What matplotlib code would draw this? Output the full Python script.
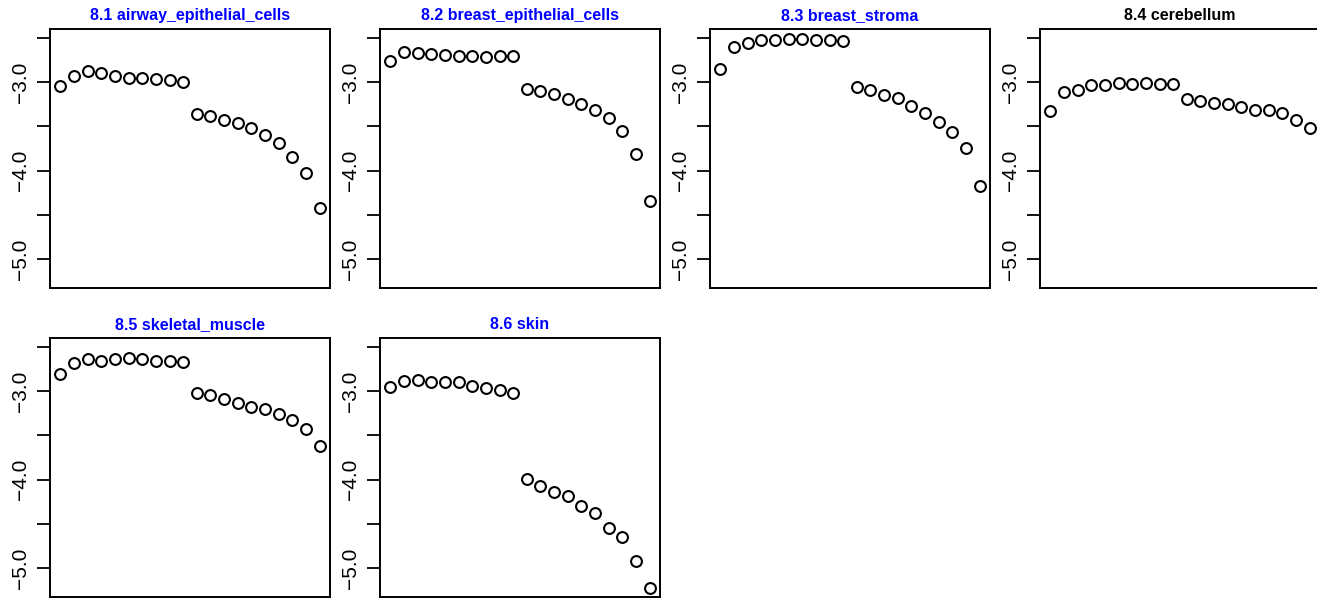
import matplotlib
matplotlib.use("Agg")
import matplotlib.pyplot as plt
import numpy as np

plt.rcParams['font.family'] = ['Liberation Sans', 'DejaVu Sans']

titles = ["8.1 airway_epithelial_cells", "8.2 breast_epithelial_cells",
          "8.3 breast_stroma", "8.4 cerebellum",
          "8.5 skeletal_muscle", "8.6 skin"]
title_colors = ["#0000FF", "#0000FF", "#0000FF", "#000000", "#0000FF", "#0000FF"]

airway = [-3.038, -2.935, -2.878, -2.893, -2.935, -2.950, -2.950, -2.966, -2.981, -2.996,
          -3.357, -3.387, -3.433, -3.463, -3.520, -3.596, -3.691, -3.843, -4.032, -4.424]
breast_epi = [-2.761, -2.658, -2.670, -2.677, -2.692, -2.699, -2.699, -2.711, -2.699, -2.699,
              -3.075, -3.102, -3.132, -3.189, -3.246, -3.315, -3.406, -3.550, -3.816, -4.347]
breast_stroma = [-2.847, -2.601, -2.551, -2.525, -2.522, -2.514, -2.508, -2.517, -2.525, -2.536,
                 -3.049, -3.083, -3.144, -3.178, -3.265, -3.353, -3.451, -3.569, -3.740, -4.177]
cerebellum = [-3.330, -3.106, -3.083, -3.034, -3.034, -3.007, -3.023, -3.007, -3.018, -3.018,
              -3.186, -3.208, -3.231, -3.250, -3.280, -3.315, -3.315, -3.345, -3.428, -3.520]
skeletal = [-2.810, -2.685, -2.636, -2.654, -2.639, -2.628, -2.639, -2.658, -2.658, -2.665,
            -3.026, -3.038, -3.083, -3.132, -3.178, -3.205, -3.254, -3.330, -3.425, -3.622]
skin = [-2.950, -2.886, -2.875, -2.893, -2.893, -2.901, -2.939, -2.969, -2.989, -3.015,
        -3.994, -4.071, -4.139, -4.191, -4.298, -4.382, -4.545, -4.651, -4.925, -5.228]

series = [airway, breast_epi, breast_stroma, cerebellum, skeletal, skin]
yticks = [-2.5, -3.0, -3.5, -4.0, -4.5, -5.0]
ytick_labels = ["", "\u22123.0", "", "\u22124.0", "", "\u22125.0"]

W, H = 1317, 599
fig = plt.figure(figsize=(W / 100, H / 100), dpi=100)

lefts = [50, 380, 710, 1040]
tops = [29, 338]
aw, ah = 280, 259

for i, vals in enumerate(series):
    r, c = divmod(i, 4)
    l = lefts[c]
    t = tops[r]
    ax = fig.add_axes([l / W, 1 - (t + ah) / H, aw / W, ah / H])
    x = np.arange(1, len(vals) + 1)
    ax.plot(x, vals, linestyle='none', marker='o', markersize=7.8,
            markerfacecolor='none', markeredgecolor='black', markeredgewidth=1.5)
    n = len(vals)
    pad = 0.04 * (n - 1)
    ax.set_xlim(1 - pad, n + pad)
    ax.set_ylim(-5.33, -2.398)
    ax.set_xticks([])
    ax.set_yticks(yticks)
    ax.set_yticklabels(ytick_labels, rotation=90, va='center', fontsize=15)
    ax.tick_params(axis='y', length=9.5, width=1.3, pad=5, direction='out')
    for s in ax.spines.values():
        s.set_linewidth(1.4)
    ax.text(0.5, 1.0 + 6 / ah, titles[i], transform=ax.transAxes, ha='center',
            va='bottom', fontsize=11.5, fontweight='bold', color=title_colors[i])

fig.savefig("out.png", dpi=100)
